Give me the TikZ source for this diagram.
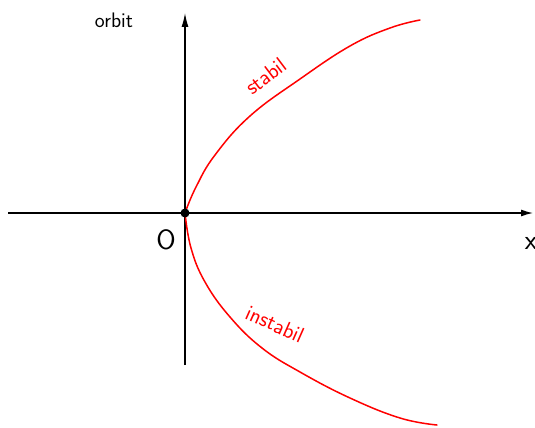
\documentclass[tikz,border=0pt]{standalone}
\usepackage{tikz}
\usetikzlibrary{arrows.meta}

\begin{document}
\begin{tikzpicture}[x=1pt,y=-1pt,line width=1.3pt]
  \useasboundingbox (0,0) rectangle (535,428);
  \coordinate (O) at (185,213);
  \coordinate (L) at (8,213);
  \coordinate (R) at (533,213);
  \coordinate (D) at (185,365);
  \coordinate (U) at (185,13);
  \draw[-{Latex[length=12pt,width=7pt]}] (L)--(R);
  \draw[-{Latex[length=14pt,width=7pt]}] (D)--(U);
  \draw[red,line width=1.5pt,line cap=round] plot[smooth,tension=0.7] coordinates
    {(185,213) (196,187) (215,155) (250,116) (300,79) (350,46) (390,28) (420,20)};
  \draw[red,line width=1.5pt,line cap=round] plot[smooth,tension=0.7] coordinates
    {(185,213) (191,248) (205,282) (230,317) (262,348) (300,372) (350,398) (400,418) (437,425)};
  \fill (O) circle (4.5pt);
  \node[font=\sffamily\fontsize{21}{24}\selectfont] (orbit) at (114,20) {orbit};
  \node[font=\sffamily\fontsize{28}{30}\selectfont] (zero) at (166,240) {O};
  \node[font=\sffamily\fontsize{28}{30}\selectfont] (x) at (531,243) {x};
  \node[red,font=\sffamily\fontsize{22}{24}\selectfont,rotate=37] (stabil) at (266,76) {stabil};
  \node[red,font=\sffamily\fontsize{22}{24}\selectfont,rotate=-24] (instabil) at (275,324) {instabil};
\end{tikzpicture}
\end{document}
